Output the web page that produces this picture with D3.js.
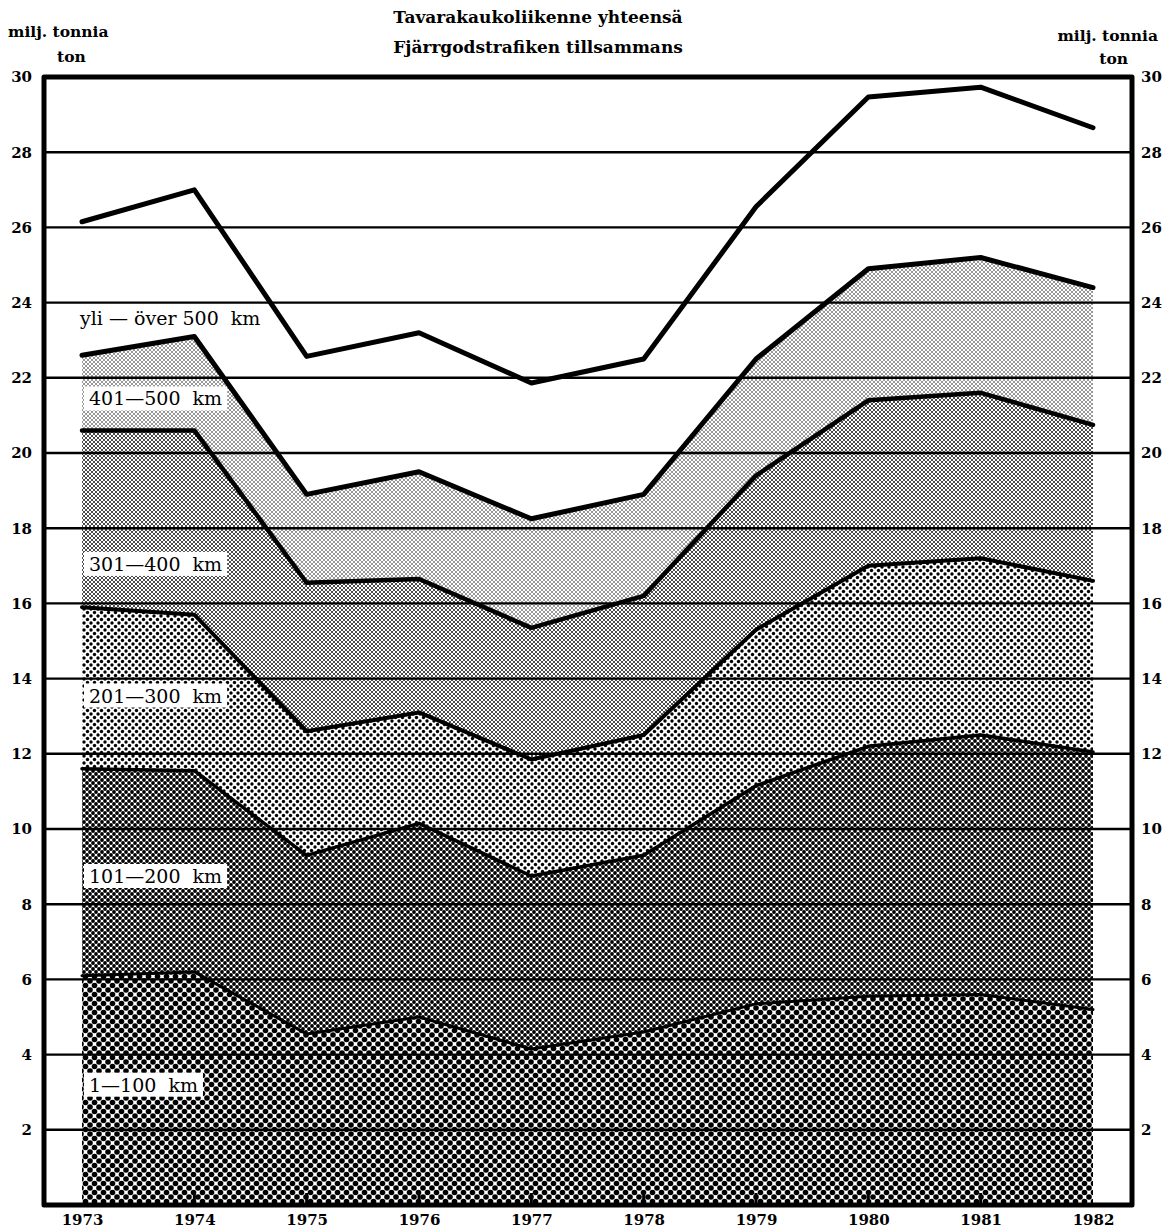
<!DOCTYPE html>
<html>
<head>
<meta charset="utf-8">
<script src="https://cdn.jsdelivr.net/npm/d3@7"></script>
<style>
  html, body { margin: 0; padding: 0; background: #fff; }
  svg { display: block; }
</style>
</head>
<body>
<div id="chart"></div>
<script>
// ---- data (million tonnes) ----
const years = [1973, 1974, 1975, 1976, 1977, 1978, 1979, 1980, 1981, 1982];
const bandKeys = ["b100", "b200", "b300", "b400", "b500", "over500"];
const bandLabels = ["1—100  km", "101—200  km", "201—300  km", "301—400  km", "401—500  km", "yli — över 500  km"];
const band100 = [6.10, 6.20, 4.55, 5.00, 4.15, 4.60, 5.35, 5.55, 5.60, 5.20];
const band200 = [5.50, 5.35, 4.75, 5.15, 4.60, 4.70, 5.80, 6.65, 6.90, 6.85];
const band300 = [4.30, 4.15, 3.30, 2.95, 3.10, 3.20, 4.15, 4.80, 4.70, 4.55];
const band400 = [4.70, 4.90, 3.95, 3.55, 3.50, 3.70, 4.10, 4.40, 4.40, 4.15];
const band500 = [2.00, 2.50, 2.35, 2.85, 2.90, 2.70, 3.10, 3.50, 3.60, 3.65];
const bandOver500 = [3.55, 3.90, 3.67, 3.70, 3.61, 3.60, 4.05, 4.57, 4.53, 4.25];
const yTicks = [2, 4, 6, 8, 10, 12, 14, 16, 18, 20, 22, 24, 26, 28, 30];
const labelAnchors = [3.2, 8.75, 13.55, 17.05, 21.45, 23.6]; // label positions in axis units
const titleLines = ["Tavarakaukoliikenne yhteensä", "Fjärrgodstrafiken tillsammans"];
const unitLines = ["milj. tonnia", "ton"];

const table = years.map((y, i) => ({
  year: y,
  b100: band100[i], b200: band200[i], b300: band300[i],
  b400: band400[i], b500: band500[i], over500: bandOver500[i]
}));

// ---- layout ----
const W = 1165, H = 1230;
const frame = { left: 44, right: 1132, top: 77, bottom: 1205 };
const serif = "'DejaVu Serif', 'Liberation Serif', serif";

const svg = d3.select("#chart").append("svg")
  .attr("width", W).attr("height", H)
  .attr("viewBox", `0 0 ${W} ${H}`);

const x = d3.scaleLinear().domain([1973, 1982]).range([82, 1093]);
const y = d3.scaleLinear().domain([0, 30]).range([frame.bottom, frame.top]);

// ---- patterns ----
const defs = svg.append("defs");
function dotPattern(id, size, r) {
  const p = defs.append("pattern").attr("id", id)
    .attr("patternUnits", "userSpaceOnUse")
    .attr("width", size).attr("height", size);
  p.append("rect").attr("width", size).attr("height", size).attr("fill", "#fff");
  [[0, 0], [size, 0], [0, size], [size, size], [size / 2, size / 2]].forEach(([cx, cy]) =>
    p.append("circle").attr("cx", cx).attr("cy", cy).attr("r", r).attr("fill", "#000"));
}
dotPattern("p100", 9, 2.8);
dotPattern("p200", 6, 1.9);
dotPattern("p300", 7, 1.7);
dotPattern("p400", 4, 0.95);
dotPattern("p500", 4, 0.75);
const fills = { b100: "url(#p100)", b200: "url(#p200)", b300: "url(#p300)",
  b400: "url(#p400)", b500: "url(#p500)", over500: "#fff" };
const lineWidths = { b100: 3, b200: 3.5, b300: 4, b400: 4.5, b500: 5, over500: 5 };

const stack = d3.stack().keys(bandKeys)(table);

// areas
const area = d3.area()
  .x(d => x(d.data.year))
  .y0(d => y(d[0]))
  .y1(d => y(d[1]));
svg.append("g").selectAll("path").data(stack).join("path")
  .attr("d", area)
  .attr("fill", d => fills[d.key]);

// gridlines
svg.append("g").selectAll("line").data(yTicks.filter(t => t < 30)).join("line")
  .attr("x1", frame.left).attr("x2", frame.right)
  .attr("y1", d => y(d)).attr("y2", d => y(d))
  .attr("stroke", "#000").attr("stroke-width", 2.4);

// boundary lines
const line = d3.line().x(d => x(d.data.year)).y(d => y(d[1]));
svg.append("g").selectAll("path").data(stack).join("path")
  .attr("d", line)
  .attr("fill", "none")
  .attr("stroke", "#000")
  .attr("stroke-width", d => lineWidths[d.key])
  .attr("stroke-linejoin", "round")
  .attr("stroke-linecap", "round");

// frame
svg.append("rect")
  .attr("x", frame.left).attr("y", frame.top)
  .attr("width", frame.right - frame.left).attr("height", frame.bottom - frame.top)
  .attr("fill", "none").attr("stroke", "#000").attr("stroke-width", 5)
  .attr("stroke-linejoin", "round");

// bottom year ticks
svg.append("g").selectAll("line").data(years.slice(1, -1)).join("line")
  .attr("x1", d => x(d)).attr("x2", d => x(d))
  .attr("y1", frame.bottom).attr("y2", frame.bottom - 12)
  .attr("stroke", "#000").attr("stroke-width", 3);

// axes (labels only, using d3 axes)
const leftAxis = d3.axisLeft(y).tickValues(yTicks).tickSize(0).tickPadding(12).tickFormat(d3.format("d"));
const gl = svg.append("g").attr("transform", `translate(${frame.left},0)`).call(leftAxis);
const rightAxis = d3.axisRight(y).tickValues(yTicks).tickSize(0).tickPadding(9).tickFormat(d3.format("d"));
const gr = svg.append("g").attr("transform", `translate(${frame.right},0)`).call(rightAxis);
const bottomAxis = d3.axisBottom(x).tickValues(years).tickSize(0).tickPadding(9).tickFormat(d3.format("d"));
const gb = svg.append("g").attr("transform", `translate(0,${frame.bottom})`).call(bottomAxis);
[gl, gr, gb].forEach(g => {
  g.select(".domain").remove();
  g.selectAll("text").attr("font-family", serif).attr("font-weight", "bold")
    .attr("font-size", 15).attr("fill", "#000");
});
gb.selectAll("text").attr("font-size", 15);

// titles
svg.append("g").selectAll("text").data(titleLines).join("text")
  .attr("x", 538).attr("y", (d, i) => 23 + i * 30)
  .attr("text-anchor", "middle")
  .attr("font-family", serif).attr("font-weight", "bold").attr("font-size", 17)
  .text(d => d);

// unit labels
svg.append("text").attr("x", 8).attr("y", 37)
  .attr("font-family", serif).attr("font-weight", "bold").attr("font-size", 15.5).text(unitLines[0]);
svg.append("text").attr("x", 57).attr("y", 62)
  .attr("font-family", serif).attr("font-weight", "bold").attr("font-size", 15.5).text(unitLines[1]);
svg.append("text").attr("x", 1158).attr("y", 41).attr("text-anchor", "end")
  .attr("font-family", serif).attr("font-weight", "bold").attr("font-size", 15.5).text(unitLines[0]);
svg.append("text").attr("x", 1128).attr("y", 64).attr("text-anchor", "end")
  .attr("font-family", serif).attr("font-weight", "bold").attr("font-size", 15.5).text(unitLines[1]);

// band labels
const lg = svg.append("g");
bandKeys.forEach((k, i) => {
  const g = lg.append("g");
  const t = g.append("text")
    .attr("x", i === 5 ? 80 : 89)
    .attr("y", y(labelAnchors[i]) + 7)
    .attr("font-family", serif).attr("font-size", 19)
    .attr("xml:space", "preserve")
    .style("white-space", "pre")
    .text(bandLabels[i]);
  if (k !== "over500") {
    const bb = t.node().getBBox();
    g.insert("rect", "text")
      .attr("x", bb.x - 5).attr("y", bb.y - 1)
      .attr("width", bb.width + 10).attr("height", bb.height + 2)
      .attr("fill", "#fff");
  }
});
</script>
</body>
</html>
